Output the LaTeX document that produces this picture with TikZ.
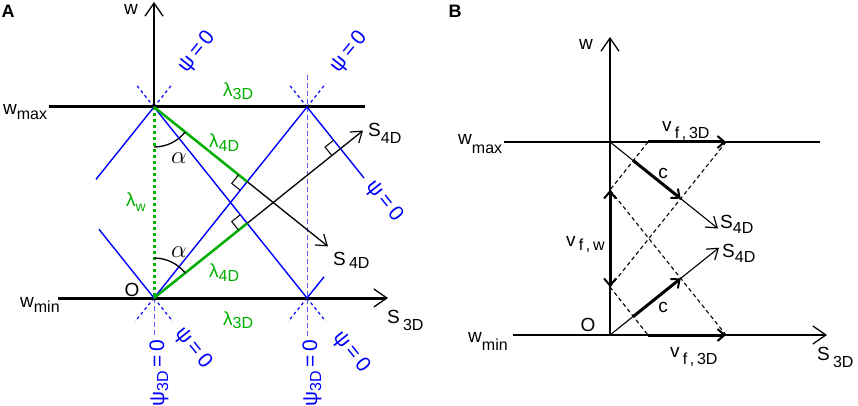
\documentclass[tikz,border=0pt]{standalone}
\usepackage{fontspec}
\setmainfont{Liberation Sans}
\usetikzlibrary{arrows.meta,calc}
\definecolor{cblue}{RGB}{0,0,255}
\definecolor{cgreen}{RGB}{0,175,0}
\newcommand\sbs[2][4pt]{\raisebox{-#1}{\fontsize{16}{17}\selectfont #2}}
\begin{document}
\begin{tikzpicture}[x=1pt,y=-1pt,
  lab/.style={inner sep=0pt, font=\fontsize{19}{21}\selectfont},
  glab/.style={lab, text=cgreen},
  blab/.style={inner sep=0pt, text=cblue, font=\fontsize{21}{23}\selectfont},
  panel/.style={inner sep=0pt, font=\fontsize{18}{20}\selectfont\bfseries},
  thickax/.style={line width=3pt},
  thinax/.style={line width=1.3pt},
  barbA/.style={-{Straight Barb[length=13pt,width=18pt,line width=1.3pt]}},
  barbS/.style={-{Straight Barb[length=10pt,width=14pt,line width=1.2pt]}},
  bwave/.style={cblue, line width=1.4pt},
  bdash/.style={cblue, line width=1.2pt, dash pattern=on 3pt off 3pt},
  vdash/.style={cblue!65, line width=0.9pt, dash pattern=on 5pt off 3pt},
  gdot/.style={cgreen, line width=3pt, dash pattern=on 3pt off 3pt},
  gsol/.style={cgreen, line width=2.5pt},
  kdash/.style={black, line width=1.1pt, dash pattern=on 4pt off 3pt},
  rmark/.style={black, line width=1pt},
  boldarr/.style={line width=3pt, -{Straight Barb[length=7pt,width=12pt,line width=2pt]}},
  boldboth/.style={line width=3pt, {Straight Barb[length=7pt,width=12pt,line width=2pt]}-{Straight Barb[length=7pt,width=12pt,line width=2pt]}}
]
\useasboundingbox (0,0) rectangle (858,406);

% ================= Panel A =================
\node[panel] (lA) at (8,11) {A};
\coordinate (TA) at (154,107);
\coordinate (OA) at (154,298);
\coordinate (RT) at (307,107);
\coordinate (RB) at (307,298);
\coordinate (wmaxL) at (49,107);
\coordinate (wmaxR) at (365,107);
\coordinate (wminL) at (58,298);
\coordinate (sA) at (388,298);
\coordinate (wA) at (154,2);
\coordinate (L1a) at (96,179.4);
\coordinate (L1b) at (324,276.9);
\coordinate (L2a) at (99,229.3);
\coordinate (L2b) at (364,178);
\coordinate (F1) at (247.2,181.7);
\coordinate (F2) at (247.2,223.3);
\coordinate (F3) at (340.5,148.8);
\coordinate (S4A1) at (328,246.4);
\coordinate (S4A2) at (363,130.6);
\coordinate (VT) at (307,75);
\coordinate (VB) at (307,336);
\coordinate (VL) at (154,336);

% blue dashed helpers
\draw[vdash] (VT) -- (VB);
\draw[vdash] (OA) -- (VL);
\draw[bdash] (TA) -- ++(-17.5,-21.9);
\draw[bdash] (TA) -- ++(18.8,-23.4);
\draw[bdash] (RT) -- ++(-17.5,-21.9);
\draw[bdash] (RT) -- ++(18.8,-23.4);
\draw[bdash] (OA) -- ++(-18.8,23.4);
\draw[bdash] (OA) -- ++(18.8,23.4);
\draw[bdash] (RB) -- ++(-18.8,23.4);
\draw[bdash] (RB) -- ++(18.8,23.4);

% axes
\draw[thinax, barbA] (TA) -- (wA);
\draw[thickax] (wmaxL) -- (wmaxR);
\draw[thickax, barbA] (wminL) -- (sA);

% blue zig-zag lines
\draw[bwave] (L1a) -- (TA) -- (RB) -- (L1b);
\draw[bwave] (L2a) -- (OA) -- (RT) -- (L2b);

% s4D axes
\draw[thinax, barbS] (TA) -- (S4A1);
\draw[thinax, barbS] (OA) -- (S4A2);

% green
\draw[gdot] (TA) -- (OA);
\draw[gsol] (TA) -- (F1);
\draw[gsol] (OA) -- (F2);

% right-angle marks
\draw[rmark] ($(F1)+(-8.59,-6.88)$) -- ++(-6.88,8.59) -- ++(8.59,6.88);
\draw[rmark] ($(F2)+(-6.88,-8.59)$) -- ++(-8.59,6.88) -- ++(6.88,8.59);
\draw[rmark] ($(F3)+(-6.88,-8.59)$) -- ++(-8.59,6.88) -- ++(6.88,8.59);

% alpha arcs
\draw[thinax] ($(TA)+(0,40)$) arc[start angle=-90, end angle=-38.7, radius=40pt];
\draw[thinax] ($(OA)+(0,-40)$) arc[start angle=90, end angle=38.7, radius=40pt];

% labels A
\node[lab] (wAl) at (131,9) {w};
\node[lab, anchor=base west] (wmaxA) at (3,115) {w\sbs[5pt]{max}};
\node[lab, anchor=base west] (wminA) at (20,307) {w\sbs[5pt]{min}};
\node[glab, anchor=base west] (l3t) at (223,97) {λ\sbs[3pt]{3D}};
\node[glab, anchor=base west] (l3b) at (223,325) {λ\sbs[3pt]{3D}};
\node[glab, anchor=base west] (l4t) at (209,148) {λ\sbs[4pt]{4D}};
\node[glab, anchor=base west] (l4b) at (209,277) {λ\sbs[4pt]{4D}};
\node[glab, anchor=base west] (lw) at (126,206) {λ\sbs[5pt]{\fontsize{14}{15}\selectfont w}};
\node[lab, font=\fontsize{23}{24}\selectfont] (a1) at (179,158) {$\alpha$};
\node[lab, font=\fontsize{23}{24}\selectfont] (a2) at (179,252) {$\alpha$};
\node[lab] (OAl) at (132,290) {O};
\node[lab, anchor=base west] (s4t) at (368,137) {S\sbs[6pt]{4D}};
\node[lab, anchor=base west] (s4b) at (333,265) {S\,\sbs[3pt]{4D}};
\node[lab, anchor=base west] (s3A) at (387,323) {S\,\sbs[7pt]{3D}};
\node[blab, rotate=51.3] (p1) at (197,52) {ψ\,=\,0};
\node[blab, rotate=51.3] (p2) at (349,52) {ψ\,=\,0};
\node[blab, rotate=-51.3] (p3) at (384,201) {ψ\,=\,0};
\node[blab, rotate=-51.3] (p4) at (193,348) {ψ\,=\,0};
\node[blab, rotate=-51.3] (p5) at (351,352) {ψ\,=\,0};
\node[blab, rotate=90] (p6) at (159,373) {ψ\sbs[4pt]{3D}\,=\,0};
\node[blab, rotate=90] (p7) at (312,373) {ψ\sbs[4pt]{3D}\,=\,0};

% ================= Panel B =================
\node[panel] (lB) at (455,11) {B};
\coordinate (OB) at (610,335);
\coordinate (TB) at (610,142);
\coordinate (wB) at (610,37);
\coordinate (wmaxBL) at (504,142);
\coordinate (wmaxBR) at (820,142);
\coordinate (wminBL) at (513,335);
\coordinate (sB) at (827,335);
\coordinate (P1) at (648,142);
\coordinate (P2) at (726,142);
\coordinate (Q1) at (610,190);
\coordinate (Q2) at (610,287);
\coordinate (R1) at (648,335);
\coordinate (R2) at (726,335);
\coordinate (S4B1) at (718,228.5);
\coordinate (S4B2) at (719,247.7);

\draw[thinax, barbA] (OB) -- (wB);
\draw[thinax] (wmaxBL) -- (wmaxBR);
\draw[thinax, barbA] (wminBL) -- (sB);
\draw[line width=1.1pt, barbS] (TB) -- (S4B1);
\draw[line width=1.1pt, barbS] (OB) -- (S4B2);

\draw[kdash] (P1) -- (Q1);
\draw[kdash] (P2) -- (Q2);
\draw[kdash] (Q1) -- (R2);
\draw[kdash] (Q2) -- (R1);

\draw[boldarr] (P1) -- (P2);
\draw[boldarr] (R1) -- (R2);
\draw[boldboth] (Q1) -- (Q2);
\draw[boldarr] (intersection of TB--S4B1 and P1--Q1) -- (intersection of TB--S4B1 and P2--Q2);
\draw[boldarr] (intersection of OB--S4B2 and Q2--R1) -- (intersection of OB--S4B2 and Q1--R2);

% labels B
\node[lab] (wBl) at (586,44) {w};
\node[lab, anchor=base west] (wmaxB) at (458,145) {w\sbs[9pt]{max}};
\node[lab, anchor=base west] (wminB) at (468,342) {w\sbs[8pt]{min}};
\node[lab, anchor=base west] (vf3t) at (662,132) {v\,\sbs[6pt]{f\,,\,3D}};
\node[lab, anchor=base west] (vf3b) at (670,357) {v\,\sbs[7pt]{f\,,\,3D}};
\node[lab, anchor=base west] (vfw) at (566,246) {v\,\sbs[4pt]{f\,,\,w}};
\node[lab] (c1) at (663,173) {c};
\node[lab] (c2) at (663,307) {c};
\node[lab] (OBl) at (588,325) {O};
\node[lab, anchor=base west] (s4Bt) at (720,228) {S\sbs[5pt]{4D}};
\node[lab, anchor=base west] (s4Bb) at (722,257) {S\sbs[5pt]{4D}};
\node[lab, anchor=base west] (s3B) at (817,360) {S\,\sbs[7pt]{3D}};
\end{tikzpicture}
\end{document}
